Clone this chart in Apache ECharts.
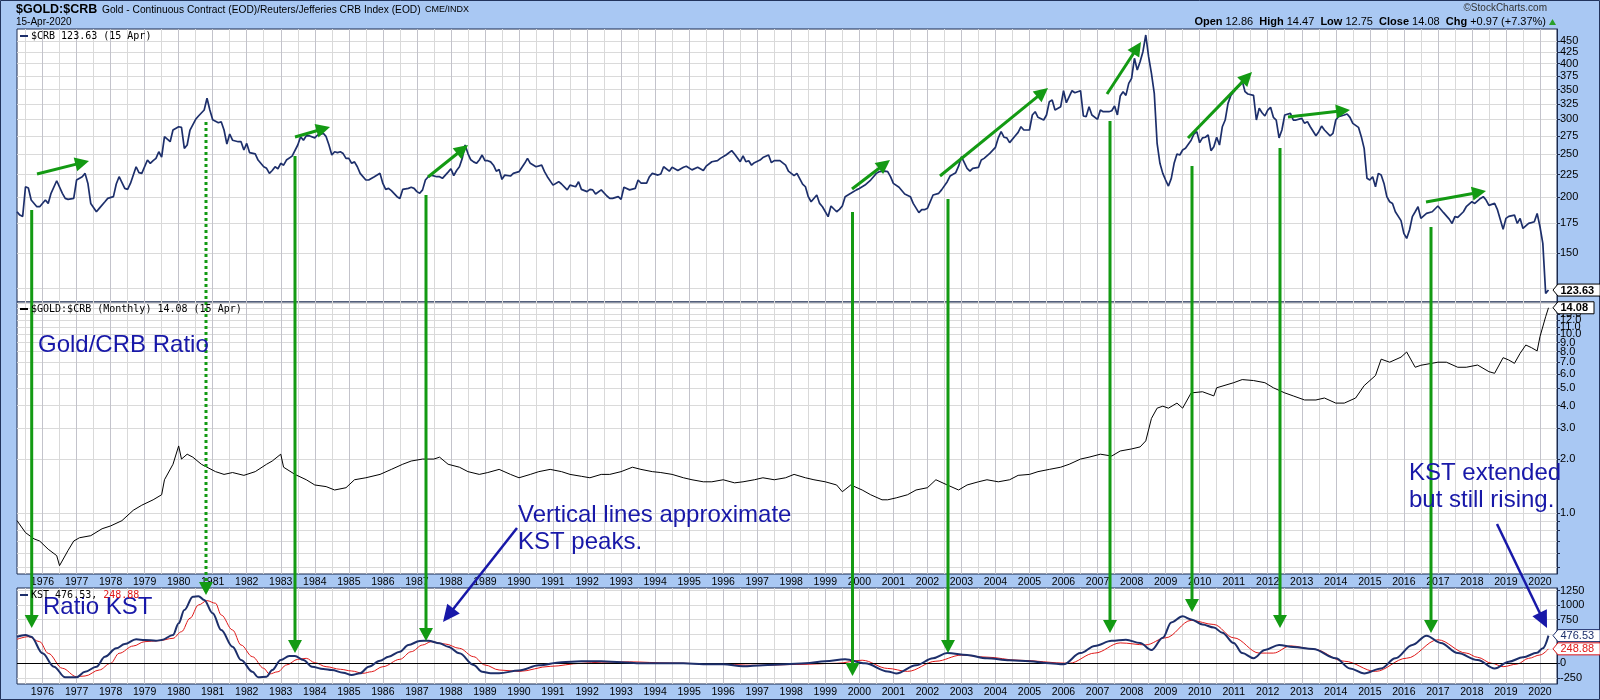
<!DOCTYPE html>
<html><head><meta charset="utf-8">
<script src="https://cdn.jsdelivr.net/npm/echarts@6/dist/echarts.min.js"></script>
<style>html,body{margin:0;padding:0;background:#a9c8f3}#c{width:1600px;height:700px}</style>
</head><body><div id="c"></div><script>
// ---------- DATA ----------
const crbDates = [
'1975-04','1975-05','1975-06','1975-07','1975-08','1975-09','1975-11','1975-12',
'1976-02','1976-03','1976-04','1976-06','1976-08','1976-09','1976-10','1976-12',
'1977-01','1977-03','1977-04','1977-05','1977-06','1977-08','1977-09','1977-11','1977-12',
'1978-02','1978-03','1978-04','1978-06','1978-07','1978-08','1978-10','1978-11','1978-12',
'1979-02','1979-03','1979-04','1979-05','1979-06','1979-07','1979-08','1979-10','1979-11',
'1980-01','1980-02','1980-03','1980-04','1980-05','1980-07','1980-08','1980-10','1980-11','1980-12',
'1981-01','1981-03','1981-04','1981-05','1981-06','1981-07','1981-08','1981-10','1981-11','1981-12',
'1982-01','1982-02','1982-04','1982-05','1982-07','1982-08','1982-09','1982-10','1982-11','1982-12',
'1983-01','1983-02','1983-03','1983-05','1983-07','1983-08','1983-09','1983-10','1983-11',
'1984-01','1984-02','1984-04','1984-05','1984-06','1984-07','1984-08','1984-09','1984-10','1984-11','1984-12',
'1985-01','1985-02','1985-03','1985-04','1985-05','1985-07','1985-08','1985-10','1985-12',
'1986-01','1986-02','1986-03','1986-04','1986-06','1986-07','1986-08','1986-10','1986-11','1986-12',
'1987-01','1987-02','1987-03','1987-04','1987-05','1987-06','1987-08','1987-09','1987-10','1987-12',
'1988-01','1988-02','1988-03','1988-04','1988-05','1988-06','1988-07','1988-08','1988-09','1988-10','1988-11','1988-12',
'1989-01','1989-02','1989-03','1989-04','1989-05','1989-06','1989-07','1989-08','1989-10','1989-11',
'1990-01','1990-03','1990-04','1990-05','1990-07','1990-09','1990-10','1990-11',
'1991-01','1991-03','1991-04','1991-06','1991-07','1991-09','1991-10','1991-11',
'1992-01','1992-02','1992-03','1992-04','1992-06','1992-08','1992-09','1992-10','1992-12',
'1993-01','1993-02','1993-04','1993-06','1993-07','1993-08','1993-10','1993-11','1993-12',
'1994-02','1994-03','1994-04','1994-06','1994-07','1994-09','1994-11','1994-12',
'1995-02','1995-04','1995-06','1995-07','1995-09','1995-11','1995-12',
'1996-02','1996-04','1996-05','1996-07','1996-08','1996-09','1996-10','1996-11','1996-12',
'1997-02','1997-03','1997-05','1997-06','1997-07','1997-09','1997-11','1997-12',
'1998-02','1998-03','1998-05','1998-06','1998-07','1998-08','1998-10','1998-11','1998-12',
'1999-02','1999-03','1999-05','1999-06','1999-07','1999-08','1999-10','1999-12',
'2000-01','2000-02','2000-03','2000-05','2000-06','2000-07','2000-08','2000-10','2000-11','2000-12',
'2001-01','2001-03','2001-05','2001-07','2001-08','2001-10','2001-11','2001-12',
'2002-01','2002-03','2002-05','2002-06','2002-08','2002-09','2002-11','2002-12',
'2003-01','2003-03','2003-04','2003-05','2003-07','2003-08','2003-09','2003-11',
'2004-01','2004-02','2004-03','2004-04','2004-05','2004-06','2004-08','2004-09','2004-10','2004-11',
'2005-01','2005-02','2005-03','2005-04','2005-06','2005-07','2005-08','2005-09','2005-10','2005-12',
'2006-01','2006-02','2006-03','2006-04','2006-05','2006-07','2006-08','2006-09','2006-10','2006-11',
'2007-01','2007-02','2007-03','2007-05','2007-06','2007-07','2007-08','2007-09','2007-10','2007-11','2007-12',
'2008-01','2008-02','2008-03','2008-04','2008-05','2008-06','2008-07','2008-08','2008-09','2008-10','2008-11','2008-12',
'2009-01','2009-02','2009-03','2009-04','2009-05','2009-06','2009-07','2009-08','2009-10','2009-11','2009-12',
'2010-01','2010-02','2010-03','2010-04','2010-05','2010-06','2010-07','2010-08','2010-09','2010-10','2010-11','2010-12',
'2011-02','2011-03','2011-04','2011-05','2011-06','2011-08','2011-09','2011-10','2011-11','2011-12',
'2012-01','2012-02','2012-03','2012-04','2012-05','2012-06','2012-07','2012-09','2012-10','2012-11',
'2013-01','2013-02','2013-03','2013-04','2013-06','2013-07','2013-08','2013-09','2013-11','2013-12',
'2014-01','2014-02','2014-04','2014-05','2014-06','2014-07','2014-09','2014-10','2014-11','2014-12',
'2015-01','2015-02','2015-03','2015-04','2015-05','2015-06','2015-07','2015-08','2015-09','2015-10','2015-12',
'2016-01','2016-02','2016-03','2016-04','2016-05','2016-06','2016-07','2016-09','2016-11',
'2017-01','2017-03','2017-05','2017-06','2017-07','2017-08','2017-10','2017-11',
'2018-01','2018-02','2018-04','2018-05','2018-06','2018-07','2018-09','2018-10','2018-12',
'2019-01','2019-02','2019-04','2019-05','2019-06','2019-07','2019-09','2019-10','2019-11','2019-12',
'2020-01','2020-02','2020-03','2020-04'];
const crbValues = [
185.6,182.4,181.2,211.3,210,197.2,190.5,190.5,
197.2,193.8,204.2,218.0,204.2,198.9,197.9,198.9,
218.8,222.6,226.5,215.0,193.8,185.6,188.9,195.5,198.9,
200.7,214.3,222.6,209.5,208.4,215.0,234.4,227.3,226.5,
242.7,238.6,241.9,244.8,253.4,246.5,274.0,266.9,283.6,
288.5,287.6,257.9,262.4,283.6,299.8,305.0,314.6,334.3,314.6,
299.2,294.6,296.1,283.6,263.7,277.8,269.0,266.9,266.9,255.7,
264.6,252.3,250.6,242.7,234.4,232.5,226.5,229.9,234.4,232.0,
238.6,236.3,242.7,247.7,262.4,274.0,269.0,275.2,275.2,
272.3,276.4,278.8,274.0,262.4,249.1,253.4,252.3,253.4,251.0,244.8,
244.8,238.6,240.4,234.4,226.5,218.8,218.8,222.6,226.5,
215.0,208.4,209.5,207.1,200.7,198.9,208.4,209.5,210.7,209.5,
206.0,204.2,207.9,218.8,222.6,224.5,222.6,222.6,220.7,228.0,
232.0,223.8,229.9,234.4,244.8,262.4,251.0,243,240.4,238.6,242.7,249.1,
241.9,241.9,240.4,236.3,229.1,231,219.5,224.5,223.4,226.5,
228.5,238.6,244.8,238.6,234.4,236.3,228.5,222.6,
213.1,216.9,214.3,207.9,213.1,211.3,216.9,208.4,
206.0,208.4,207.9,203.5,207.9,201.4,198.9,198.9,200.7,
197.9,210.7,207.9,209.5,218.8,215.4,215.4,222.6,226.5,
224.5,225.7,234.4,229.1,233.7,229.9,233.7,235.1,
230.6,233.7,229.9,235.1,240.6,241.9,244.8,
249.1,254.8,250.4,240.6,248.0,240.6,241.9,236.3,239.4,
242.7,245.8,249.1,239.4,241.9,241.9,236.3,229.1,
223.8,226.5,214.3,211.3,200.7,195.5,202.4,193.8,190.5,
180.9,191.2,185.6,187.9,191.2,200.7,204.2,207.9,
209.5,211.3,213.1,218.8,222.6,226.5,228.5,229.1,228.5,222.6,
215.0,210.7,203.5,200.7,193.8,184.7,187.6,187.6,
188.9,202.4,204.2,207.9,216.9,223.4,227.3,235.1,
247.0,232.5,229.1,232.5,233.7,242.7,244.8,251.3,
259.2,272.3,281.2,273.2,272.3,265.6,275.2,280.1,288.5,283.6,
283.6,306.6,311.9,302.9,298.7,306.6,328.5,331.4,314.6,320.1,
347.8,326.8,337.2,347.8,344.2,347.8,305.0,304.1,320.1,306.6,
299.8,314.6,311.9,311.9,313.5,321.2,306.6,338.3,346.0,339.4,361.3,
370.8,411.4,387.2,404.3,425.8,464.3,415.0,380.5,343.0,264.7,238.6,226.5,
218.8,212.1,220.7,238.6,250.4,249.1,255.7,257.9,269.0,277.8,281.2,
265.6,272.3,273.2,276.4,254.8,260.1,273.2,262.4,288.5,298.7,325.7,339.4,
352.1,358.2,366.4,346.0,341.9,339.4,298.7,317.4,310.3,305.0,
314.6,319.0,302.9,298.7,272.3,283.6,306.6,309.2,298.7,298.7,
301.3,293.6,296.2,288.5,275.2,281.2,289.5,283.6,275.2,278.8,
298.7,304.1,306.6,308.2,302.9,293.6,287.6,274.0,257.9,220.7,
218.8,222.6,211.3,226.5,224.5,215.0,200.7,195.5,193.8,185.6,177.2,
165.9,161.6,168.8,180.9,185.6,190.5,179.3,184.0,185.6,
191.2,184.7,178.6,174.7,180.9,180.3,185.6,190.5,
195.5,193.8,198.9,200.7,197.2,191.8,193.8,187.6,169.4,
179.3,181.2,182.4,174.7,179.3,170.2,174.7,175.4,176.2,184.0,
171.7,157.5,121.5,123.63];

const ratioDates = [
'1975-04','1975-07','1975-10','1975-12','1976-03','1976-06','1976-07','1976-10','1976-12',
'1977-02','1977-06','1977-10','1978-01','1978-05','1978-09','1978-12','1979-04','1979-07','1979-08','1979-11',
'1980-01','1980-02','1980-04','1980-06','1980-09','1980-11','1981-02','1981-05','1981-08','1981-12',
'1982-04','1982-08','1982-10','1983-01','1983-02','1983-06','1983-10','1984-01','1984-05','1984-08','1984-12',
'1985-03','1985-07','1985-12','1986-04','1986-08','1986-11','1987-03','1987-07','1987-09','1987-12',
'1988-04','1988-07','1988-11','1989-02','1989-06','1989-10','1990-01','1990-05','1990-08','1990-12',
'1991-04','1991-07','1991-11','1992-02','1992-06','1992-09','1993-01','1993-05','1993-08','1993-12',
'1994-03','1994-07','1994-11','1995-02','1995-06','1995-09','1996-01','1996-05','1996-08','1996-12',
'1997-03','1997-07','1997-11','1998-02','1998-06','1998-09','1999-01','1999-05','1999-07','1999-10',
'2000-02','2000-05','2000-09','2000-11','2001-02','2001-06','2001-09','2002-01','2002-04','2002-08','2002-12',
'2003-03','2003-07','2003-10','2004-02','2004-06','2004-09','2005-01','2005-04','2005-08','2005-12',
'2006-03','2006-07','2006-10','2007-02','2007-06','2007-09','2008-01','2008-04','2008-06','2008-08','2008-10','2008-12',
'2009-02','2009-05','2009-07','2009-10','2010-02','2010-06','2010-07','2011-01','2011-04','2011-08','2011-12',
'2012-03','2012-07','2012-10','2013-02','2013-06','2013-09','2014-01','2014-04','2014-08','2014-11',
'2015-03','2015-05','2015-08','2015-12','2016-02','2016-04','2016-05','2016-07','2017-01','2017-04','2017-08','2017-11',
'2018-03','2018-07','2018-09','2018-12','2019-02','2019-04','2019-06','2019-08','2019-10','2019-12',
'2020-01','2020-03','2020-04'];
const ratioValues = [
0.91,0.78,0.72,0.70,0.63,0.58,0.51,0.62,0.70,
0.73,0.75,0.82,0.85,0.91,1.04,1.11,1.19,1.27,1.54,1.88,
2.38,2.01,2.14,2.06,1.88,1.81,1.71,1.65,1.69,1.63,
1.71,1.88,1.96,2.14,1.81,1.65,1.54,1.44,1.41,1.35,1.39,
1.54,1.58,1.65,1.76,1.88,1.96,2.01,2.01,2.06,1.88,
1.81,1.71,1.65,1.69,1.76,1.65,1.58,1.65,1.71,1.76,
1.71,1.65,1.61,1.58,1.65,1.65,1.71,1.81,1.76,1.71,
1.69,1.65,1.58,1.54,1.50,1.50,1.54,1.48,1.50,1.54,
1.58,1.54,1.58,1.65,1.58,1.54,1.50,1.44,1.32,1.44,
1.35,1.27,1.19,1.19,1.22,1.27,1.35,1.39,1.54,1.44,1.35,
1.44,1.50,1.54,1.50,1.54,1.63,1.65,1.71,1.76,1.81,
1.88,2.01,2.06,2.14,2.09,2.23,2.29,2.35,2.54,3.39,3.87,3.97,
3.87,4.13,3.87,4.71,4.78,4.53,5.03,5.37,5.59,5.52,5.37,
5.03,4.71,4.53,4.30,4.30,4.41,4.13,4.13,4.41,5.17,
5.89,7.27,6.99,7.46,7.97,6.99,6.55,6.72,6.99,6.99,6.55,6.55,
6.74,6.19,6.06,7.41,7.19,6.89,7.84,8.72,8.43,8.08,
9.71,12.55,14.08];

const kstDates = [
'1975-04','1975-07','1975-09','1976-01','1976-05','1976-09','1977-01','1977-04','1977-08','1977-11',
'1978-03','1978-06','1978-10','1979-01','1979-05','1979-07','1979-11','1980-01','1980-03','1980-06','1980-08','1980-10',
'1981-01','1981-04','1981-08','1981-11','1982-03','1982-05','1982-08','1982-10','1983-01','1983-04','1983-06','1983-09','1983-12',
'1984-04','1984-07','1984-11','1985-02','1985-05','1985-08','1985-12','1986-03','1986-07','1986-10','1987-02','1987-05',
'1987-09','1987-12','1988-04','1988-09','1988-12','1989-03','1989-06','1990-01','1990-08','1991-04','1991-11','1992-06',
'1993-01','1993-08','1994-03','1994-11','1995-06','1996-01','1996-08','1997-03','1997-11','1998-06','1999-01','1999-08',
'2000-03','2000-11','2001-02','2001-09','2002-03','2002-08','2003-03','2003-10','2004-06','2005-01','2005-08','2006-01',
'2006-07','2006-12','2007-06','2007-11','2008-04','2008-08','2008-12','2009-03','2009-07','2009-10','2010-02','2010-06',
'2010-09','2011-01','2011-04','2011-08','2011-12','2012-05','2012-10','2013-05','2014-01','2014-06','2014-11','2015-05',
'2015-10','2016-04','2016-09','2017-02','2017-08','2018-03','2018-09','2019-02','2019-07','2019-12','2020-02','2020-04'];
const kstValues = [
458,487,458,172,-58,-241,-241,-145,-58,114,
258,332,413,401,389,401,487,689,918,1147,1156,1090,
861,573,286,57,-145,-241,-230,-115,57,126,126,57,-58,
-98,-115,-161,-201,-172,-58,45,114,200,315,384,389,
344,286,172,-29,-145,-172,-172,-122,-34,19,36,36,
19,0,0,0,-17,-17,-52,-34,-17,0,36,71,
0,-139,-175,-34,88,176,141,88,53,36,0,-17,
176,300,387,405,351,229,439,704,809,756,668,615,
527,351,176,88,229,317,282,246,88,-88,-175,-88,
88,317,475,351,176,57,-89,28,103,183,258,476.53];

const sigDates = [
'1975-04','1975-08','1975-12','1976-03','1976-08','1977-01','1977-04','1977-09','1978-01','1978-04','1978-09',
'1979-01','1979-06','1979-11','1980-02','1980-05','1980-08','1980-11','1981-02','1981-04','1981-08','1981-11','1982-03',
'1982-07','1982-09','1982-12','1983-03','1983-07','1983-10','1984-01','1984-05','1984-10','1985-02','1985-06','1985-09',
'1986-01','1986-07','1986-11','1987-03','1987-06','1987-11','1988-04','1988-09','1989-01','1989-06','1990-01','1990-12',
'1991-11','1992-06','1993-04','1994-06','1995-09','1997-01','1998-03','1999-05','2000-02','2000-11','2001-06','2002-04',
'2003-01','2003-10','2004-09','2006-03','2006-12','2007-09','2008-06','2009-01','2009-10','2010-06','2011-01','2011-10',
'2012-03','2012-09','2013-05','2014-04','2015-03','2016-02','2017-01','2017-11','2018-03','2018-08','2018-12','2019-05',
'2019-09','2020-01','2020-04'];
const sigValues = [
413,458,372,172,-86,-230,-218,-115,0,172,298,
372,389,430,544,775,1004,1078,1033,832,573,315,114,
-86,-184,-145,-29,69,86,11,-58,-103,-132,-172,-145,
-58,69,200,315,372,332,258,114,-29,-115,-139,-52,
0,20,25,5,-10,-35,-20,0,53,-88,-139,36,
141,106,53,0,176,351,317,439,739,668,439,176,
176,300,246,36,-139,88,405,176,103,0,-58,-12,
86,143,248.88];

const crbTicks = [125,150,175,200,225,250,275,300,325,350,375,400,425,450];
const crbLabels = [150,175,200,225,250,275,300,325,350,375,400,425,450];
const ratioTicks = [0.5,0.6,0.7,0.8,0.9,1,2,3,4,5,6,7,8,9,10,11,12,13,14,15];
const ratioLabels = [1,2,3,4,5,6,7,8,9,10,11,12,13,14,15];
const kstTicks = [-250,0,250,500,750,1000,1250];
const kstLabels = [-250,0,750,1000,1250];

// ---------- CHART ----------
const months = [];
for (let y = 1975; y <= 2020; y++) for (let m = 1; m <= 12; m++) {
  const s = y + '-' + String(m).padStart(2, '0');
  if (s >= '1975-04' && s <= '2020-07') months.push(s);
}
const FONT = 'Liberation Sans';
const L = 17, R = 1557, GW = R - L;
const grids = [
  {left: L, top: 29, width: GW, height: 273},
  {left: L, top: 302, width: GW, height: 272},
  {left: L, top: 588, width: GW, height: 96}
].map(g => Object.assign(g, {show: true, backgroundColor: '#fff', borderColor: '#1b2a4e', borderWidth: 1}));

function xAx(i, showLabels) {
  return {
    type: 'category', gridIndex: i, data: months, boundaryGap: false,
    axisLine: {show: false}, axisTick: {show: false},
    axisLabel: {show: showLabels, interval: (idx, v) => v.endsWith('-01'), formatter: v => v.slice(0, 4),
      color: '#000', fontFamily: FONT, fontSize: 10.5, margin: 3},
    splitLine: {show: true, interval: (idx, v) => v.endsWith('-01') || v.endsWith('-07'),
      lineStyle: {color: ['#d9d9d9', '#c3c3cb'], width: 1}}
  };
}
function yAx(i, min, max, ticks, labels, fmt) {
  return {
    type: 'value', gridIndex: i, position: 'right', min: min, max: max,
    axisLine: {show: true, lineStyle: {color: '#1b2a4e'}},
    axisTick: {show: true, length: 3, customValues: ticks, lineStyle: {color: '#1b2a4e'}},
    axisLabel: {customValues: labels, formatter: fmt, color: '#000', fontFamily: FONT, fontSize: 11, margin: 3},
    splitLine: {show: true, lineStyle: {color: '#dadada', width: 1}}
  };
}
const lg = Math.log10;
const option = {
  backgroundColor: '#a9c8f3',
  animation: false,
  grid: grids,
  xAxis: [xAx(0, false), xAx(1, true), xAx(2, true)],
  yAxis: [
    yAx(0, lg(116.2), lg(479), crbTicks.map(lg), crbLabels.map(lg), v => String(Math.round(Math.pow(10, v)))),
    yAx(1, lg(0.458), lg(15.17), ratioTicks.map(lg), ratioLabels.map(lg), v => Math.pow(10, v).toFixed(1)),
    yAx(2, -356, 1296, kstTicks, kstLabels, v => String(v))
  ],
  series: [
    {type: 'line', xAxisIndex: 0, yAxisIndex: 0, symbol: 'none', z: 5,
      lineStyle: {color: '#1d2f6b', width: 1.7},
      data: crbDates.map((d, i) => [d, lg(crbValues[i])])},
    {type: 'line', xAxisIndex: 1, yAxisIndex: 1, symbol: 'none', z: 5,
      lineStyle: {color: '#000', width: 1},
      data: ratioDates.map((d, i) => [d, lg(ratioValues[i])])},
    {type: 'line', xAxisIndex: 2, yAxisIndex: 2, symbol: 'none', z: 4, smooth: 0.35, smoothMonotone: 'x',
      lineStyle: {color: '#e01818', width: 1},
      data: sigDates.map((d, i) => [d, sigValues[i]])},
    {type: 'line', xAxisIndex: 2, yAxisIndex: 2, symbol: 'none', z: 5, smooth: 0.35, smoothMonotone: 'x',
      lineStyle: {color: '#1d2f6b', width: 2},
      data: kstDates.map((d, i) => [d, kstValues[i]]),
      markLine: {silent: true, symbol: 'none', label: {show: false}, animation: false,
        lineStyle: {color: '#000', width: 1, type: 'solid'}, data: [{yAxis: 0}]}}
  ]
};
const chart = echarts.init(document.getElementById('c'), null, {renderer: 'canvas'});
chart.setOption(option);

// ---------- ANNOTATIONS ----------
const G = [];
const GREEN = '#139a13', BLUE = '#1818a8';
function arrow(x1, y1, x2, y2, color, w, hl, hw, dash) {
  const dx = x2 - x1, dy = y2 - y1, len = Math.hypot(dx, dy);
  const ux = dx / len, uy = dy / len, nx = -uy, ny = ux;
  const bx = x2 - ux * hl, by = y2 - uy * hl;
  G.push({type: 'line', z: 100, shape: {x1: x1, y1: y1, x2: bx + ux * 2, y2: by + uy * 2},
    style: {stroke: color, lineWidth: w, lineDash: dash || null}});
  G.push({type: 'polygon', z: 100, shape: {points: [[x2, y2], [bx + nx * hw, by + ny * hw], [bx - nx * hw, by - ny * hw]]},
    style: {fill: color}});
}
function txt(x, y, text, opts, z) {
  G.push({type: 'text', z: z || 101, x: x, y: y, style: Object.assign({text: text, fill: '#000', fontFamily: FONT, fontSize: 11,
    align: 'left', verticalAlign: 'middle'}, opts || {})});
}
// vertical green arrows
arrow(31.7, 210, 31.7, 628, GREEN, 3, 13, 7);
arrow(206, 122, 206, 595, GREEN, 3, 13, 7, [3, 3]);
arrow(295, 156, 295, 653, GREEN, 3, 13, 7);
arrow(426, 195, 426, 641, GREEN, 3, 13, 7);
arrow(852.5, 212, 852.5, 676, GREEN, 3, 13, 7);
arrow(948, 199, 948, 653, GREEN, 3, 13, 7);
arrow(1110, 121, 1110, 633, GREEN, 3, 13, 7);
arrow(1192, 166, 1192, 612, GREEN, 3, 13, 7);
arrow(1280, 148, 1280, 628, GREEN, 3, 13, 7);
arrow(1431, 227, 1431, 633, GREEN, 3, 13, 7);
// diagonal green arrows in price panel
arrow(37, 174, 89, 161, GREEN, 3, 14, 7);
arrow(295, 137, 330, 127, GREEN, 3, 14, 7);
arrow(428, 177, 468, 145, GREEN, 3, 14, 7);
arrow(852, 189, 890, 160, GREEN, 3, 14, 7);
arrow(940, 176, 1048, 88, GREEN, 3, 14, 7);
arrow(1107, 94, 1141, 42, GREEN, 3, 14, 7);
arrow(1188, 138, 1252, 72, GREEN, 3, 14, 7);
arrow(1288, 117, 1350, 110, GREEN, 3, 14, 7);
arrow(1426, 202, 1486, 191, GREEN, 3, 14, 7);
// blue arrows
arrow(517, 528, 443, 622, BLUE, 2.5, 17, 8);
arrow(1497, 524, 1547, 628, BLUE, 2.5, 17, 8);
// blue annotation texts
const big = {fill: BLUE, fontSize: 24, verticalAlign: 'top', lineHeight: 27};
txt(38, 332, 'Gold/CRB Ratio', big);
txt(43, 594, 'Ratio KST', big);
txt(518, 502, 'Vertical lines approximate\nKST peaks.', big);
txt(1409, 460, 'KST extended\nbut still rising.', big);
// header
txt(16, 9.5, '$GOLD:$CRB', {fontWeight: 'bold', fontSize: 12.5});
txt(102, 10, 'Gold - Continuous Contract (EOD)/Reuters/Jefferies CRB Index (EOD)', {fontSize: 10.2});
txt(425, 10, 'CME/INDX', {fontSize: 9});
txt(16, 22.5, '15-Apr-2020', {fontSize: 10});
txt(1547, 8, '\u00A9StockCharts.com', {align: 'right', fontSize: 10, fill: '#333'});
G.push({type: 'text', z: 101, x: 1546, y: 22, style: {
  text: '{b|Open} 12.86  {b|High} 14.47  {b|Low} 12.75  {b|Close} 14.08  {b|Chg} +0.97 (+7.37%)',
  fontFamily: FONT, fontSize: 11, fill: '#000', align: 'right', verticalAlign: 'middle',
  rich: {b: {fontWeight: 'bold', fontFamily: FONT, fontSize: 11, fill: '#000', color: '#000'}}}});
G.push({type: 'polygon', z: 101, shape: {points: [[1549, 25], [1556, 25], [1552.5, 19]]}, style: {fill: '#2aa02a'}});
// panel legends
function legend(y, color, parts) {
  G.push({type: 'line', z: 101, shape: {x1: 20, y1: y, x2: 28, y2: y}, style: {stroke: color, lineWidth: 2}});
  let x = 31;
  parts.forEach(p => {
    txt(x, y, p[0], {fontFamily: 'DejaVu Sans Mono', fontSize: 10, fill: p[1]});
    x += p[0].length * 6.02;
  });
}
legend(36, '#1d2f6b', [['$CRB 123.63 (15 Apr)', '#000']]);
legend(309, '#000', [['$GOLD:$CRB (Monthly) 14.08 (15 Apr)', '#000']]);
legend(595, '#1d2f6b', [['KST 476.53, ', '#000'], ['248.88', '#e01818']]);
// value tags on right axis
function tag(y, text, color, bold) {
  const w = text.length * 6.2 + 5;
  G.push({type: 'polygon', z: 102, shape: {points: [[1553, y], [1558, y - 6], [1558 + w, y - 6], [1558 + w, y + 6], [1558, y + 6]]},
    style: {fill: '#fff', stroke: color, lineWidth: 1}});
  txt(1560.5, y + 0.5, text, {fill: color, fontWeight: bold ? 'bold' : 'normal', fontSize: 11}, 103);
}
tag(chart.convertToPixel({yAxisIndex: 0}, lg(123.63)), '123.63', '#000', true);
tag(chart.convertToPixel({yAxisIndex: 1}, lg(14.08)), '14.08', '#000', true);
tag(chart.convertToPixel({yAxisIndex: 2}, 476.53), '476.53', '#1d2f6b', false);
tag(chart.convertToPixel({yAxisIndex: 2}, 248.88), '248.88', '#e01818', false);
// outer frame
G.push({type: 'rect', z: 99, shape: {x: 0.5, y: 0.5, width: 1599, height: 699}, style: {fill: null, stroke: '#22345c', lineWidth: 1}});
chart.setOption({graphic: G});
</script></body></html>
